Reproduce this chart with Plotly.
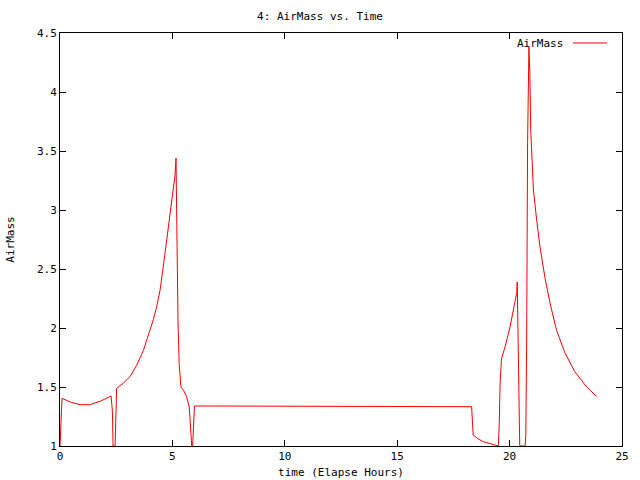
import plotly.graph_objects as go

title_text = "4: AirMass vs. Time"
series_name = "AirMass"
x_label = "time (Elapse Hours)"
y_label = "AirMass"

time_hours = [0.0, 0.09, 0.5, 0.9, 1.33, 1.8, 2.27, 2.33, 2.36, 2.45, 2.52, 2.8, 3.11, 3.4, 3.71, 3.95,
              4.15, 4.3, 4.45, 4.67, 4.89, 5.07, 5.12, 5.16, 5.2, 5.25, 5.3, 5.38, 5.5, 5.63, 5.75, 5.86,
              5.9, 5.98, 7.0, 10.0, 15.0, 18.31, 18.38, 18.6, 18.83, 19.1, 19.35, 19.5, 19.54, 19.58,
              19.64, 19.8, 20.02, 20.24, 20.32, 20.34, 20.37, 20.41, 20.45, 20.69, 20.72, 20.76,
              20.8, 20.86, 20.9, 20.94, 21.0, 21.06, 21.2, 21.35, 21.57, 21.8, 22.09, 22.46, 22.9,
              23.43, 23.87]
airmass = [1.0, 1.404, 1.37, 1.35, 1.35, 1.38, 1.424, 1.3, 1.0, 1.0, 1.489, 1.53, 1.587, 1.68, 1.81, 1.95,
           2.07, 2.18, 2.32, 2.63, 2.97, 3.23, 3.3, 3.44, 2.53, 2.05, 1.70, 1.50, 1.47, 1.42, 1.33, 1.0,
           1.0, 1.339, 1.339, 1.339, 1.339, 1.333, 1.093, 1.06, 1.037, 1.02, 1.01, 1.0, 1.19, 1.545,
           1.74, 1.84, 2.01, 2.24, 2.3, 2.39, 2.05, 1.36, 1.0, 1.0, 1.09, 1.93,
           3.57, 4.38, 4.16, 3.68, 3.40, 3.17, 2.92, 2.69, 2.43, 2.21, 1.98, 1.79, 1.63,
           1.50, 1.42]

x_ticks = [0, 5, 10, 15, 20, 25]
y_ticks = [1, 1.5, 2, 2.5, 3, 3.5, 4, 4.5]
y_tick_labels = ["1", "1.5", "2", "2.5", "3", "3.5", "4", "4.5"]

FONT = "DejaVu Sans Mono"

fig = go.Figure()
fig.add_trace(go.Scatter(x=time_hours, y=airmass, mode="lines", name=series_name,
                         line=dict(color="#ff0000", width=1), showlegend=False))

axis_common = dict(showgrid=False, zeroline=False, showline=True, linecolor="black", linewidth=1,
                   mirror="allticks", ticks="inside", ticklen=6, tickcolor="black", automargin=False,
                   tickfont=dict(family=FONT, size=11, color="black"))

fig.update_layout(
    width=640, height=480,
    margin=dict(l=60, r=18, t=33, b=34, autoexpand=False),
    paper_bgcolor="white", plot_bgcolor="white",
    title=dict(text=title_text, x=0.5, xanchor="center", y=1 - 16 / 480, yanchor="middle",
               font=dict(family=FONT, size=11, color="black")),
    xaxis=dict(range=[0, 25], tickvals=x_ticks, ticktext=[str(v) for v in x_ticks],
               title=dict(text=x_label, font=dict(family=FONT, size=11, color="black"), standoff=6),
               **axis_common),
    yaxis=dict(range=[1, 4.5], tickvals=y_ticks, ticktext=y_tick_labels,
               title=dict(text=y_label, font=dict(family=FONT, size=11, color="black"), standoff=20),
               **axis_common),
)

# gnuplot-style key: text then line sample, top right inside plot
fig.add_annotation(xref="paper", yref="paper", x=(565 - 60) / 562, y=(446 - 43) / 413,
                   xanchor="right", yanchor="middle", showarrow=False, text=series_name,
                   font=dict(family=FONT, size=11, color="black"))
fig.add_shape(type="line", xref="paper", yref="paper",
              x0=(573 - 60) / 562, x1=(607 - 60) / 562, y0=(446 - 43) / 413, y1=(446 - 43) / 413,
              line=dict(color="#ff0000", width=1))

fig.write_html("out.html", config={"displayModeBar": False},
               post_script="document.body.style.margin='0';")
